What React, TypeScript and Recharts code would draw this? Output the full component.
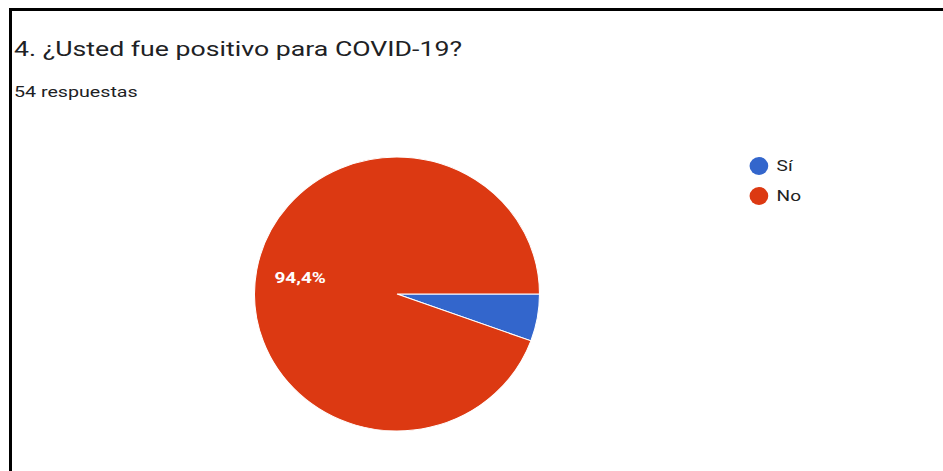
import { PieChart, Pie, Cell, Legend } from 'recharts';

const categories = ['Sí', 'No'];
const counts = [3, 51];
const colors = ['#3366cc', '#dc3912'];
const title = '4. ¿Usted fue positivo para COVID-19?';
const subtitle = '54 respuestas';

const data = categories.map((name, i) => ({ name, value: counts[i] }));

const RADIAN = Math.PI / 180;
// the screenshot is stretched sideways: a bit for the pie, more for the text
const PIE_SX = 1.04;
const TEXT_SX = 1.27;
const CX = 397;

const renderLabel = (props: any) => {
  const { cx, cy, midAngle, outerRadius, percent } = props;
  if (percent < 0.1) return null;
  const r = outerRadius * 0.69;
  const x = cx + r * Math.cos(-midAngle * RADIAN);
  const y = cy + r * Math.sin(-midAngle * RADIAN);
  const txt = (percent * 100).toFixed(1).replace('.', ',') + '%';
  return (
    <text transform={`translate(${x},${y}) scale(${TEXT_SX / PIE_SX},1)`} fill="#ffffff" textAnchor="middle"
      dominantBaseline="central" fontSize={15} fontWeight={700} fontFamily="Roboto, Arial, sans-serif">
      {txt}
    </text>
  );
};

const renderLegend = () => (
  <div style={{ fontFamily: 'Roboto, Arial, sans-serif', fontSize: 15, color: '#222' }}>
    {data.map((d, i) => (
      <div key={d.name} style={{ display: 'flex', alignItems: 'center', height: 30 }}>
        <span style={{ width: 18, height: 18, borderRadius: 9, background: colors[i], display: 'inline-block', marginRight: 8, flexShrink: 0 }} />
        <span style={{ display: 'inline-block', transform: `scaleX(${TEXT_SX / PIE_SX})`, transformOrigin: 'left center' }}>{d.name}</span>
      </div>
    ))}
  </div>
);

export default function App() {
  return (
    <div style={{ position: 'absolute', left: 0, top: 0, width: 943, height: 471, background: '#fff', overflow: 'hidden', fontFamily: 'Roboto, Arial, sans-serif' }}>
      <div style={{ position: 'absolute', left: 9, top: 8, width: 934, height: 3, background: '#000' }} />
      <div style={{ position: 'absolute', left: 9, top: 8, width: 3, height: 463, background: '#000' }} />
      <div style={{ position: 'absolute', left: 14, top: 37, fontSize: 21, lineHeight: '24px', color: '#202124', whiteSpace: 'nowrap', transform: `scaleX(${TEXT_SX})`, transformOrigin: 'left top' }}>{title}</div>
      <div style={{ position: 'absolute', left: 14, top: 83, fontSize: 15, lineHeight: '18px', color: '#202124', whiteSpace: 'nowrap', transform: `scaleX(1.31)`, transformOrigin: 'left top' }}>{subtitle}</div>
      <div style={{ position: 'absolute', left: 0, top: 0, transform: `scaleX(${PIE_SX})`, transformOrigin: `${CX}px 0px` }}>
        <PieChart width={943} height={471} margin={{ top: 0, right: 0, bottom: 0, left: 0 }}>
          <Pie data={data} dataKey="value" nameKey="name" cx={CX} cy={294} outerRadius={137}
            startAngle={0} endAngle={-360} stroke="#ffffff" strokeWidth={1}
            label={renderLabel} labelLine={false} isAnimationActive={false}>
            {data.map((d, i) => <Cell key={d.name} fill={colors[i]} />)}
          </Pie>
          <Legend content={renderLegend} layout="vertical" verticalAlign="top" align="right"
            wrapperStyle={{ left: CX + (750 - CX) / PIE_SX, top: 151, width: 100 }} />
        </PieChart>
      </div>
    </div>
  );
}
